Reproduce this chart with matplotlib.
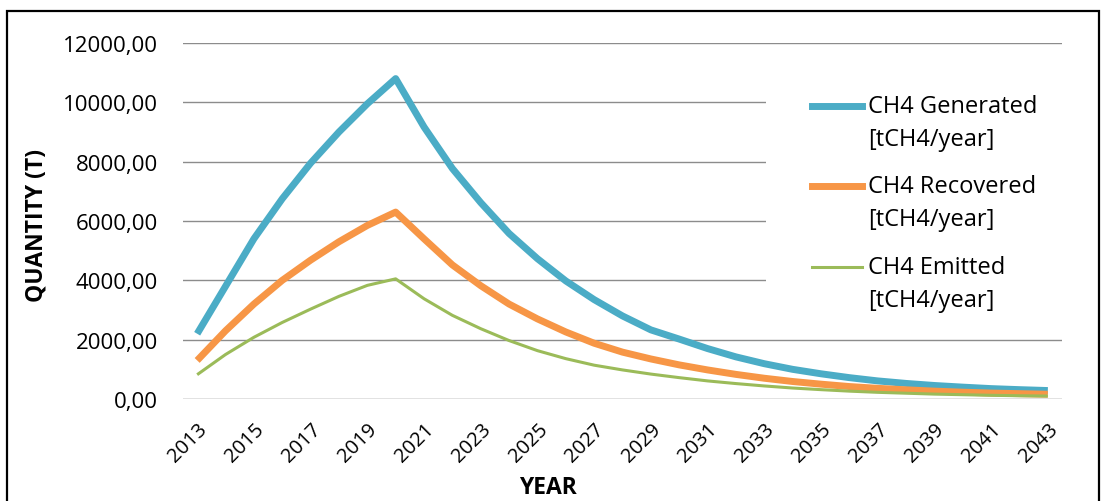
import matplotlib
matplotlib.use("Agg")
import matplotlib.pyplot as plt
from matplotlib.lines import Line2D
from matplotlib.patches import Rectangle

years = list(range(2013, 2044))
generated = [2200, 3800, 5400, 6750, 7950, 9000, 9950, 10800, 9170, 7770,
             6620, 5580, 4730, 3980, 3350, 2800, 2330, 2020, 1700, 1420,
             1190, 1000, 850, 720, 610, 525, 455, 400, 350, 315, 285]
recovered = [1300, 2300, 3200, 4000, 4680, 5300, 5850, 6300, 5400, 4520,
             3820, 3200, 2700, 2260, 1880, 1580, 1350, 1150, 980, 830,
             700, 590, 500, 420, 360, 310, 265, 230, 200, 180, 160]
emitted = [820, 1500, 2080, 2580, 3030, 3460, 3830, 4050, 3380, 2820,
           2370, 1970, 1630, 1360, 1140, 980, 840, 720, 610, 520,
           440, 370, 315, 265, 225, 195, 165, 145, 125, 110, 100]
series_names = ["CH4 Generated\n[tCH4/year]", "CH4 Recovered\n[tCH4/year]",
                "CH4 Emitted\n[tCH4/year]"]
yticks = [0, 2000, 4000, 6000, 8000, 10000, 12000]

colors = ["#4BACC6", "#F79646", "#9BBB59"]
widths = [5.0, 5.0, 2.2]

plt.rcParams['font.family'] = ['Open Sans', 'DejaVu Sans']

W, H = 1107, 502
fig = plt.figure(figsize=(W / 100, H / 100), dpi=100)

def fx(px):
	return px / W

def fy(py):
	return 1 - py / H

# plot area (pixels)
left, right, top, bottom = 183, 1062, 44, 400
ax = fig.add_axes([fx(left), fy(bottom), fx(right - left), (bottom - top) / H])

xs = list(range(len(years)))
data = [generated, recovered, emitted]
for vals, c, lw in zip(data, colors, widths):
	ax.plot(xs, vals, color=c, lw=lw, solid_joinstyle='round', solid_capstyle='butt', zorder=3)

ax.set_xlim(-0.5, len(years) - 0.5)
ax.set_ylim(0, 12000)
ax.set_yticks(yticks)
ax.set_yticklabels([f"{v:.2f}".replace('.', ',') for v in yticks], fontsize=16)
ax.set_xticks(xs[::2])
ax.set_xticklabels([str(y) for y in years[::2]], fontsize=14.5, rotation=45,
                   ha='right', va='top', rotation_mode='anchor')
ax.tick_params(axis='both', length=0, colors='black')
ax.tick_params(axis='y', pad=18)
ax.tick_params(axis='x', pad=14)

for v in yticks[1:]:
	ax.axhline(v, color='#8c8c8c', lw=1.0, zorder=1)
ax.axhline(0, color='#d9d9d9', lw=1.8, zorder=1)
for s in ax.spines.values():
	s.set_visible(False)

# legend box, drawn by hand so the key sits on the first text line
fig.add_artist(Rectangle((fx(766), fy(325)), fx(300), (325 - 82) / H,
                         transform=fig.transFigure, facecolor='white',
                         edgecolor='none', zorder=2))
key_y = [107, 187, 268]
for name, c, lw, y in zip(series_names, colors, widths, key_y):
	fig.add_artist(Line2D([fx(812), fx(862)], [fy(y), fy(y)], color=c, lw=lw,
	                      transform=fig.transFigure, zorder=4))
	first, second = name.split("\n")
	fig.text(fx(868), fy(y), first, fontsize=17, va='center', ha='left', zorder=4)
	fig.text(fx(868), fy(y + 33), second, fontsize=17, va='center', ha='left', zorder=4)

fig.text(fx(36), fy(226), "QUANTITY (T)", fontsize=16.5, fontweight='bold',
         rotation=90, ha='center', va='center')
fig.text(fx(548), fy(488), "YEAR", fontsize=16.5, fontweight='bold',
         ha='center', va='center')

# outer frame of the picture
fig.add_artist(Rectangle((fx(7), -0.1), fx(1099 - 7), fy(12) + 0.1,
                         transform=fig.transFigure, fill=False,
                         edgecolor='black', lw=1.6, zorder=5))

fig.savefig("out.png", dpi=100)
